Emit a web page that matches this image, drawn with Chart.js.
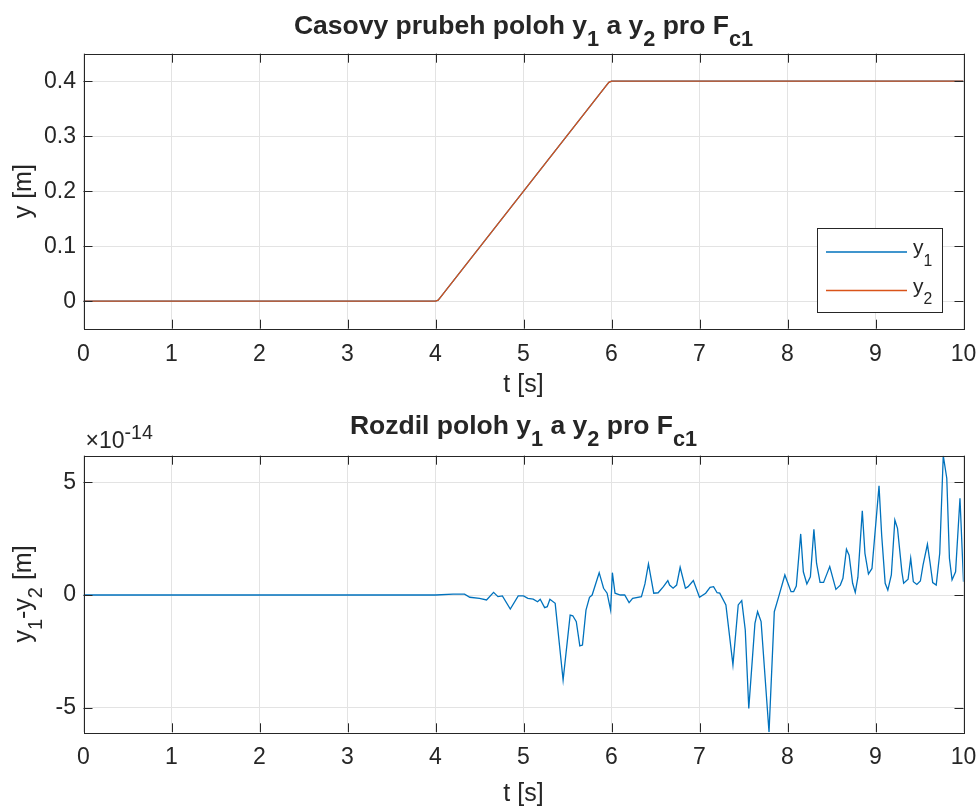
<!DOCTYPE html>
<html><head><meta charset="utf-8">
<script src="https://cdn.jsdelivr.net/npm/chart.js@4/dist/chart.umd.min.js"></script>
<style>
html,body{margin:0;padding:0;background:#fff;width:979px;height:807px;overflow:hidden}
canvas{position:absolute;left:0}
#c1{top:0}
#c2{top:402px}
</style></head><body>
<canvas id="c1" width="979" height="402"></canvas>
<canvas id="c2" width="979" height="405"></canvas>
<script>
// ---------- data ----------
const xTicks = [0,1,2,3,4,5,6,7,8,9,10];
const yTicksTop = [0,0.1,0.2,0.3,0.4];
const yTicksBottom = [-5,0,5];           // units of 1e-14
const EXPONENT = '-14';

// positions y1, y2 [m] vs time [s]
const tPos  = [0, 4.0, 4.03, 4.06, 5.94, 5.97, 6.0, 10];
const y1Pos = [0, 0, 0.002, 0.008, 0.392, 0.398, 0.4, 0.4];
const y2Pos = [0, 0, 0.002, 0.008, 0.392, 0.398, 0.4, 0.4];

// difference y1-y2 (units of 1e-14 m)
const tDiff = [0,1,2,3,4,4.2,4.33,4.39,4.5,4.58,4.66,4.71,4.76,4.85,4.94,5.0,5.05,5.11,5.16,5.19,5.24,5.27,5.3,5.36,5.45,5.53,5.56,5.6,5.64,5.67,5.71,5.75,5.78,5.86,5.91,5.95,5.99,6.01,6.04,6.1,6.15,6.2,6.24,6.34,6.38,6.42,6.48,6.53,6.59,6.64,6.66,6.7,6.74,6.78,6.84,6.87,6.93,7.0,7.07,7.12,7.16,7.2,7.23,7.3,7.38,7.44,7.48,7.52,7.56,7.63,7.66,7.7,7.79,7.85,7.9,7.97,8.04,8.07,8.1,8.15,8.18,8.22,8.26,8.3,8.33,8.37,8.41,8.45,8.48,8.55,8.6,8.63,8.67,8.7,8.74,8.77,8.8,8.85,8.88,8.92,8.96,9.04,9.07,9.11,9.14,9.18,9.22,9.25,9.3,9.32,9.37,9.4,9.43,9.47,9.51,9.54,9.59,9.62,9.65,9.69,9.73,9.77,9.81,9.84,9.87,9.91,9.96,10.0];
const dDiff = [0,0,0,0,0,0.04,0.04,-0.1,-0.15,-0.22,0.12,-0.07,-0.04,-0.62,-0.04,-0.04,-0.15,-0.18,-0.3,-0.19,-0.56,-0.52,-0.19,-0.37,-3.77,-0.89,-0.92,-1.18,-2.26,-2.22,-0.67,-0.1,0,0.99,0.3,0.08,-0.67,0.99,0.08,0,0,-0.34,-0.15,-0.07,0.49,1.38,0.08,0.1,0.37,0.64,0.44,0.3,0.44,1.23,0.3,0.37,0.64,-0.1,0.08,0.34,0.37,0.1,0.08,-0.44,-3.1,-0.44,-0.25,-1.55,-5.03,-1.26,-0.74,-1.18,-6.09,-0.74,-0.07,0.89,0.15,0.15,0.4,2.71,1.03,0.49,0.81,2.91,1.41,0.56,0.56,0.96,1.26,0.25,0.44,0.74,2.03,1.77,0.52,0.12,0.79,3.74,1.85,0.93,1.18,4.84,2.66,0.52,0.22,0.89,3.33,2.96,1.03,0.52,0.7,1.63,0.59,0.47,0.62,1.33,2.25,1.43,0.55,0.44,1.85,6.18,5.18,1.63,0.67,1.03,4.29,0.59];

// ---------- style ----------
const FONT = '"Liberation Sans", Arial, Helvetica, sans-serif';
const AXC = '#262626';
const GRID = '#e3e3e3';
const BLUE = '#0072BD';
const ORANGE = '#D95319';

function richWidth(ctx, segs, size, bold, subScale) {
  let w = 0;
  for (const s of segs) {
    ctx.font = (bold ? 'bold ' : '') + (s[1] ? size * subScale : size) + 'px ' + FONT;
    w += ctx.measureText(s[0]).width;
  }
  return w;
}
function drawRich(ctx, segs, x, y, o) {
  const size = o.size, bold = !!o.bold, sc = o.subScale || 0.78, drop = o.drop || 0.45, rise = o.rise || 0.4;
  const w = richWidth(ctx, segs, size, bold, sc);
  let cx = o.align === 'center' ? x - w / 2 : (o.align === 'right' ? x - w : x);
  ctx.textAlign = 'left'; ctx.textBaseline = 'alphabetic'; ctx.fillStyle = AXC;
  for (const s of segs) {
    ctx.font = (bold ? 'bold ' : '') + (s[1] ? size * sc : size) + 'px ' + FONT;
    const dy = s[1] === 1 ? size * drop : (s[1] === 2 ? -size * rise : 0);
    ctx.fillText(s[0], cx, y + dy);
    cx += ctx.measureText(s[0]).width;
  }
}

const matlabAxes = {
  id: 'matlabAxes',
  afterDatasetsDraw(chart, args, opts) {
    const ctx = chart.ctx, a = chart.chartArea;
    const xs = chart.scales.x, ys = chart.scales.y;
    ctx.save();
    ctx.strokeStyle = AXC; ctx.lineWidth = 1;
    ctx.beginPath();
    const TL = 9;
    for (const v of xTicks) {
      const px = Math.round(xs.getPixelForValue(v)) + 0.5;
      ctx.moveTo(px, a.bottom); ctx.lineTo(px, a.bottom - TL);
      ctx.moveTo(px, a.top); ctx.lineTo(px, a.top + TL);
    }
    for (const v of opts.yTicks) {
      const py = Math.round(ys.getPixelForValue(v)) + 0.5;
      ctx.moveTo(a.left, py); ctx.lineTo(a.left + TL, py);
      ctx.moveTo(a.right, py); ctx.lineTo(a.right - TL, py);
    }
    ctx.stroke();
    ctx.strokeRect(Math.round(a.left) + 0.5, Math.round(a.top) + 0.5, Math.round(a.right - a.left), Math.round(a.bottom - a.top));
    ctx.restore();
  },
  afterDraw(chart, args, opts) {
    const ctx = chart.ctx, a = chart.chartArea;
    const cx = (a.left + a.right) / 2, cy = (a.top + a.bottom) / 2;
    ctx.save();
    drawRich(ctx, opts.title, cx, opts.titleY, {size: 26.5, bold: true, align: 'center', subScale: 0.82, drop: 0.45});
    drawRich(ctx, opts.xlabel, cx, a.bottom + opts.xlabelDy, {size: 25, align: 'center'});
    ctx.save();
    ctx.translate(opts.ylabelX, cy);
    ctx.rotate(-Math.PI / 2);
    drawRich(ctx, opts.ylabel, 0, 0, {size: 25, align: 'center', subScale: 0.8, drop: 0.42});
    ctx.restore();
    if (opts.exponent) {
      drawRich(ctx, [['\u00d710', 0], [opts.exponent, 2]], a.left + 2, a.top - 8, {size: 23, align: 'left', subScale: 0.85, rise: 0.4});
    }
    if (opts.legend) {
      const L = opts.legend;
      const bx = 817.5, by = 228.5, bw = 125, bh = 84;
      ctx.fillStyle = '#fff'; ctx.fillRect(bx, by, bw, bh);
      ctx.strokeStyle = AXC; ctx.lineWidth = 1; ctx.strokeRect(bx, by, bw, bh);
      L.forEach((it, i) => {
        const ly = by + 23.5 + i * 38.5;
        ctx.strokeStyle = it.color; ctx.lineWidth = 1.3;
        ctx.beginPath(); ctx.moveTo(826, ly); ctx.lineTo(907, ly); ctx.stroke();
        drawRich(ctx, it.label, 913, ly + 2, {size: 21, align: 'left', subScale: 0.75, drop: 0.55});
      });
    }
    ctx.restore();
  }
};

function scales(yMin, yMax, yTicks, xH, fmt) {
  return {
    x: {
      type: 'linear', min: 0, max: 10,
      afterBuildTicks: s => { s.ticks = xTicks.map(v => ({value: v})); },
      afterFit: s => { s.height = xH; s.paddingLeft = 0; s.paddingRight = 0; },
      grid: {color: GRID, lineWidth: 1, drawTicks: false},
      border: {display: false},
      ticks: {font: {family: FONT, size: 23}, color: AXC, padding: 12, maxRotation: 0, autoSkip: false, callback: v => String(v)}
    },
    y: {
      type: 'linear', min: yMin, max: yMax,
      afterBuildTicks: s => { s.ticks = yTicks.map(v => ({value: v})); },
      afterFit: s => { s.width = 83.5; s.paddingTop = 0; s.paddingBottom = 0; },
      grid: {color: GRID, lineWidth: 1, drawTicks: false},
      border: {display: false},
      ticks: {font: {family: FONT, size: 23}, color: AXC, padding: 7.5, autoSkip: false, callback: fmt}
    }
  };
}

const common = {
  responsive: false, animation: false, devicePixelRatio: 1,
  elements: {point: {radius: 0}, line: {tension: 0, borderWidth: 1.3}},
};

new Chart(document.getElementById('c1'), {
  type: 'line',
  data: {datasets: [
    {label: 'y1', data: tPos.map((t, i) => ({x: t, y: y1Pos[i]})), borderColor: BLUE, order: 1, fill: false},
    {label: 'y2', data: tPos.map((t, i) => ({x: t, y: y2Pos[i]})), borderColor: ORANGE, order: 0, fill: false}
  ]},
  options: Object.assign({}, common, {
    layout: {padding: {top: 53.7, left: 0, right: 15.5, bottom: 0}},
    scales: scales(-0.05, 0.45, yTicksTop, 402 - 328.7, v => String(v)),
    plugins: {
      legend: {display: false}, tooltip: {enabled: false},
      matlabAxes: {
        yTicks: yTicksTop,
        title: [['Casovy prubeh poloh y', 0], ['1', 1], [' a y', 0], ['2', 1], [' pro F', 0], ['c1', 1]],
        titleY: 34,
        xlabel: [['t [s]', 0]], xlabelDy: 63,
        ylabel: [['y [m]', 0]], ylabelX: 31,
        legend: [
          {color: BLUE, label: [['y', 0], ['1', 1]]},
          {color: ORANGE, label: [['y', 0], ['2', 1]]}
        ]
      }
    }
  }),
  plugins: [matlabAxes]
});

new Chart(document.getElementById('c2'), {
  type: 'line',
  data: {datasets: [
    {label: 'y1-y2', data: tDiff.map((t, i) => ({x: t, y: dDiff[i]})), borderColor: BLUE, fill: false}
  ]},
  options: Object.assign({}, common, {
    layout: {padding: {top: 53.7, left: 0, right: 15.5, bottom: 0}},
    scales: scales(-6.09, 6.18, yTicksBottom, 405 - 330.3, v => String(v)),
    plugins: {
      legend: {display: false}, tooltip: {enabled: false},
      matlabAxes: {
        yTicks: yTicksBottom,
        title: [['Rozdil poloh y', 0], ['1', 1], [' a y', 0], ['2', 1], [' pro F', 0], ['c1', 1]],
        titleY: 32,
        xlabel: [['t [s]', 0]], xlabelDy: 69,
        ylabel: [['y', 0], ['1', 1], ['-y', 0], ['2', 1], [' [m]', 0]], ylabelX: 31,
        exponent: EXPONENT
      }
    }
  }),
  plugins: [matlabAxes]
});
</script>
</body></html>
